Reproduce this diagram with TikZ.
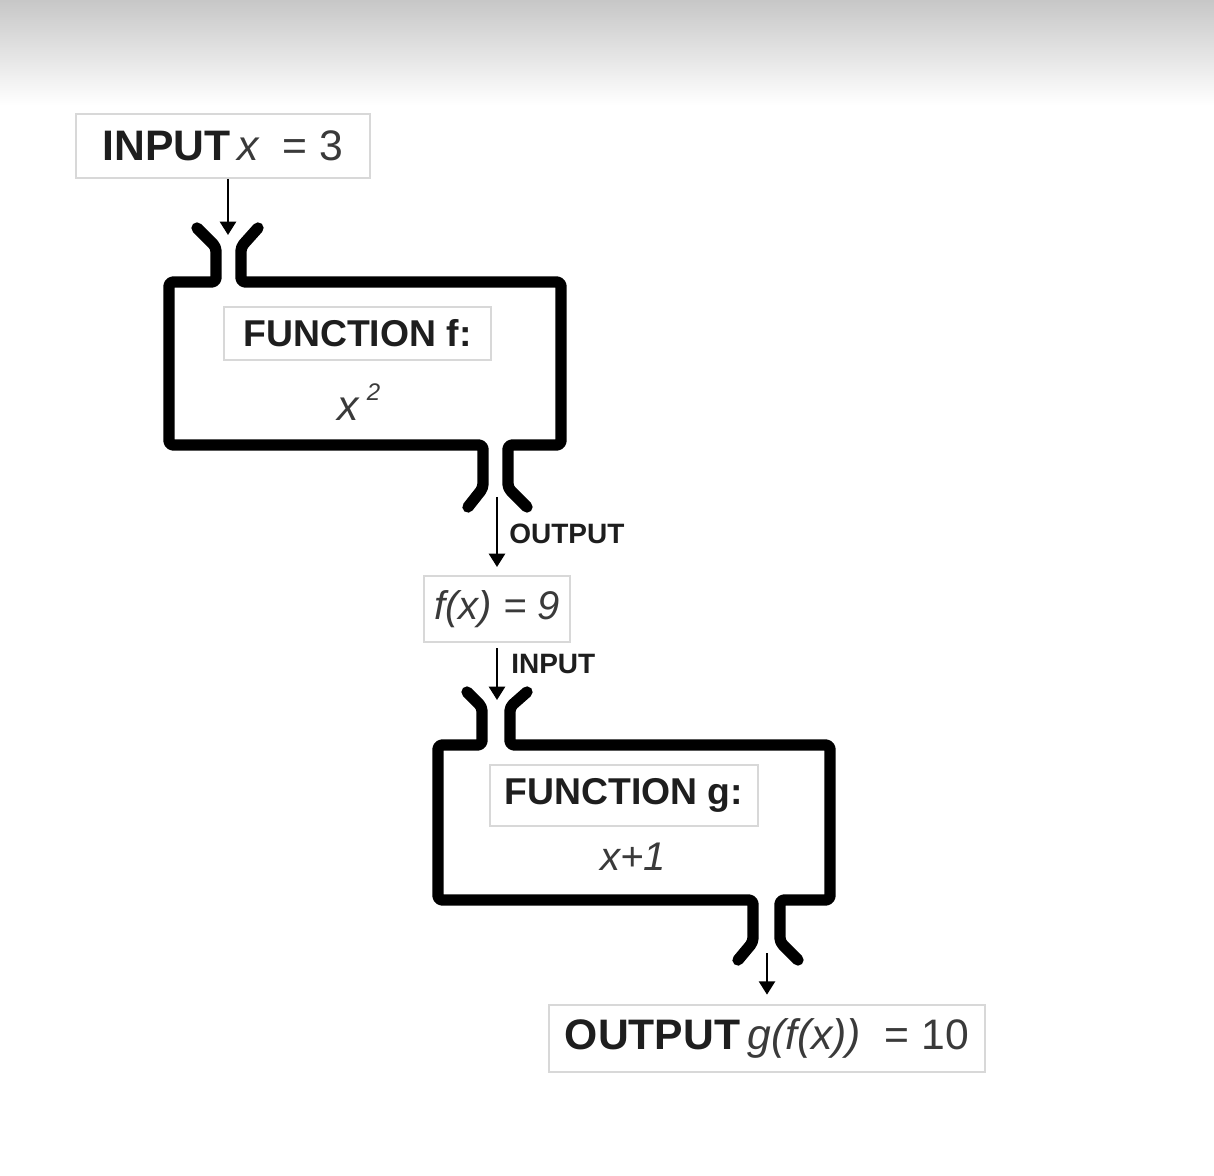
\documentclass[tikz,border=0pt]{standalone}
\usepackage{fontspec}
\setmainfont{Liberation Sans}
\usetikzlibrary{arrows.meta}
\definecolor{boxgray}{HTML}{D8D8D8}
\definecolor{txt}{HTML}{1E1E1E}
\definecolor{itx}{HTML}{3A3A3A}
\begin{document}
\begin{tikzpicture}[x=0.75pt,y=-0.75pt,
  lbl/.style={draw=boxgray,line width=1.5pt,fill=white,inner sep=0pt,text=txt},
  frame/.style={line width=8.5pt,line join=round,line cap=round,rounded corners=3pt},
  conn/.style={line width=1.9pt,-{Triangle[length=10pt,width=12pt]}},
  tag/.style={font=\fontsize{21}{21}\selectfont\bfseries,text=txt,anchor=west,inner sep=0pt},
  big/.style={font=\fontsize{32}{32}\selectfont},
  mid/.style={font=\fontsize{28}{28}\selectfont},
]
% background
\useasboundingbox (0,0) rectangle (1214,1176);
\fill[white] (0,0) rectangle (1214,1176);
\shade[top color=black!22,bottom color=white] (0,0) rectangle (1214,105);

% text boxes
\node[lbl,big,minimum width=220.5pt,minimum height=48pt] (in) at (223,146)
  {\textbf{INPUT}\,{\color{itx}\itshape x}\ \ {\color{itx}= 3}};
\node[lbl,mid,minimum width=200.25pt,minimum height=39.75pt] (fname) at (357.5,333.5)
  {\textbf{FUNCTION f:}};
\node[inner sep=0pt,text=itx] (frule) at (359,402)
  {\fontsize{32}{32}\selectfont\itshape x\raisebox{15pt}{\fontsize{18}{18}\selectfont\,\,2}};
\node[lbl,minimum width=109.5pt,minimum height=49.5pt,text=itx] (fx) at (497,609)
  {\fontsize{30}{30}\selectfont\itshape f(x) = 9};
\node[lbl,mid,minimum width=201pt,minimum height=45.75pt] (gname) at (624,795.5)
  {\textbf{FUNCTION g:}};
\node[inner sep=0pt,text=itx] (grule) at (633,857)
  {\fontsize{30}{30}\selectfont\itshape x+1};
\node[lbl,big,minimum width=327pt,minimum height=50.25pt] (out) at (767,1038.5)
  {\textbf{OUTPUT}\,{\color{itx}\itshape g(f(x))}\ \ {\color{itx}= 10}};

% function f frame
\draw[frame] (197,228) -- (216,247) -- (216,282) -- (169,282) -- (169,445)
  -- (483,445) -- (483,488) -- (468,507);
\draw[frame] (258,228) -- (241,247) -- (241,282) -- (561,282) -- (561,445)
  -- (508,445) -- (508,488) -- (527,507);
% function g frame
\draw[frame] (467,692) -- (482,707) -- (482,745) -- (438,745) -- (438,900)
  -- (753,900) -- (753,942) -- (738,960);
\draw[frame] (527,692) -- (510,707) -- (510,745) -- (830,745) -- (830,900)
  -- (780,900) -- (780,942) -- (798,960);

% coordinates for connector ends
\coordinate (fin) at (228,235);
\coordinate (fout) at (497,497);
\coordinate (gin) at (497,700);
\coordinate (gout) at (767,953);

% connectors
\draw[conn] (in.south -| fin) -- (fin);
\draw[conn] (fout) -- ([yshift=6pt]fx.north -| fout);
\draw[conn] (fx.south -| gin) ++(0,5) -- (gin);
\draw[conn] (gout) -- ([yshift=7pt]out.north -| gout);

% labels
\node[tag] (outlbl) at (509,534) {OUTPUT};
\node[tag] (inlbl) at (511,664) {INPUT};
\end{tikzpicture}
\end{document}
